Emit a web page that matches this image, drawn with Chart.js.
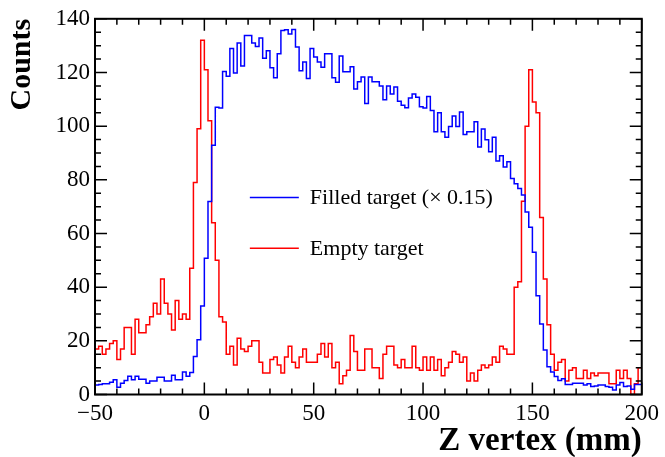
<!DOCTYPE html>
<html>
<head>
<meta charset="utf-8">
<script src="https://cdn.jsdelivr.net/npm/chart.js@4.4.1/dist/chart.umd.min.js"></script>
<style>
  html, body { margin: 0; padding: 0; background: #fff; }
  #wrap { width: 665px; height: 457px; }
</style>
</head>
<body>
<div id="wrap"><canvas id="myChart" width="665" height="457"></canvas></div>
<script>
// Histogram binning (Z vertex in mm)
const xMin = -50;
const xMax = 200;
const xTicks = [-50, 0, 50, 100, 150, 200];
const yTicks = [0, 20, 40, 60, 80, 100, 120, 140];

// Filled target counts (already scaled by 0.15), 150 bins
const filledCounts = [
  3.5, 3.7, 4, 4, 4.6, 5.5, 2.7, 4.2, 5.2, 6.8, 5.5, 6.8, 5.7, 5.7, 4.2,
  5, 5, 6.4, 6.4, 5, 5, 7.2, 5.5, 5.5, 8.4, 6.8, 8.2, 14.2, 20.4, 33,
  50.8, 71.9, 92.9, 107, 106.8, 120.4, 118.6, 128.9, 119.8, 131, 122.4, 133.8, 133.8, 131, 129.7,
  132.8, 125.3, 128.1, 121.8, 118, 127, 135.6, 135.9, 134.3, 136, 129.5, 120.6, 123.9, 117.8, 128.9,
  125.8, 123.9, 121.9, 127, 127, 118, 116.4, 126.1, 120.3, 120.3, 122.1, 113.8, 116.5, 118.3, 108.4,
  118.3, 116.5, 116.5, 115, 109.8, 115, 112, 114.6, 109.3, 107.8, 106.9, 110.5, 112, 110.8, 107.2,
  106.8, 111, 105.8, 97.9, 105, 97.9, 95.9, 99.9, 103.8, 99.9, 105.3, 96.9, 97.9, 97.9, 101.6,
  92.2, 98.9, 94.9, 90.5, 95.9, 87, 89, 84.8, 86.7, 80.5, 78.5, 76.8, 74.3, 68, 62.3,
  53, 36.8, 26.3, 16.6, 10.3, 8.4, 6.7, 5.2, 5.9, 3.7, 3.7, 4.2, 4.2, 4.2, 3.5,
  4, 3, 3.2, 3.5, 3.5, 3, 2.7, 1.7, 3.5, 4.5, 3, 3.2, 2, 3.7, 3.7
];

// Empty target counts, 150 bins
const emptyCounts = [
  17, 18, 15, 17, 19, 20, 13, 17, 25, 25, 15, 28, 23, 23, 26,
  29, 34, 30, 43, 34, 30, 24, 35, 28, 30, 28, 47, 79, 99, 132,
  121, 102, 64, 50, 29, 27, 15, 18, 11, 21, 17, 16, 18, 20, 20,
  12, 8, 8, 13, 14, 11, 8, 14, 18, 12, 10, 14, 17, 12, 12,
  12, 15, 19, 14, 19, 10, 12, 4, 7, 9, 22, 16, 9, 9, 17,
  17, 10, 10, 6, 15, 18, 18, 11, 10, 13, 10, 10, 18, 10, 9,
  14, 9, 14, 9, 13, 7, 10, 12, 16, 15, 12, 14, 5, 8, 5,
  9, 11, 10, 11, 14, 12, 18, 17, 15, 15, 40, 42, 72, 100, 121,
  109, 105, 66, 43, 26, 15, 9, 12, 13, 5, 9, 10, 6, 6, 9,
  6, 8, 7, 8, 8, 8, 4, 4, 9, 6, 9, 6, 0, 4, 10
];

const seriesLabels = ['Filled target (\u00d7 0.15)', 'Empty target'];

// legend placement in data units (line from x0 to x1, one row per series)
const legendX = [20.8, 43.2];
const legendRows = [73.4, 54.5];

// turn bin contents into step points at the low edge of each bin
function toSteps(counts) {
  const w = (xMax - xMin) / counts.length;
  const pts = counts.map((c, i) => ({ x: xMin + i * w, y: c }));
  pts.push({ x: xMax, y: counts[counts.length - 1] });
  return pts;
}

const serif = 'Liberation Serif, Times New Roman, serif';

// ROOT style frame with inward ticks on all four sides
const frameTicks = {
  id: 'frameTicks',
  afterDatasetsDraw(chart) {
    const { ctx, chartArea: a, scales } = chart;
    const xs = scales.x, ys = scales.y;
    ctx.save();
    ctx.strokeStyle = '#000';
    ctx.lineWidth = 1.5;
    ctx.beginPath();
    for (let v = xMin; v <= xMax; v += 10) {
      const px = xs.getPixelForValue(v);
      const len = (v % 50 === 0) ? 12 : 6;
      ctx.moveTo(px, a.bottom); ctx.lineTo(px, a.bottom - len);
      ctx.moveTo(px, a.top); ctx.lineTo(px, a.top + len);
    }
    for (let v = 0; v <= 140; v += 5) {
      const py = ys.getPixelForValue(v);
      const len = (v % 20 === 0) ? 12 : 6;
      ctx.moveTo(a.left, py); ctx.lineTo(a.left + len, py);
      ctx.moveTo(a.right, py); ctx.lineTo(a.right - len, py);
    }
    ctx.stroke();
    ctx.lineWidth = 2;
    ctx.strokeRect(a.left, a.top, a.right - a.left, a.bottom - a.top);
    ctx.restore();
  }
};

// legend drawn inside the frame, without a box
const innerLegend = {
  id: 'innerLegend',
  afterDatasetsDraw(chart) {
    const { ctx, scales } = chart;
    const xs = scales.x, ys = scales.y;
    const x0 = xs.getPixelForValue(legendX[0]);
    const x1 = xs.getPixelForValue(legendX[1]);
    ctx.save();
    ctx.font = '22px ' + serif;
    ctx.fillStyle = '#000';
    ctx.textBaseline = 'middle';
    chart.data.datasets.forEach((ds, i) => {
      const y = ys.getPixelForValue(legendRows[i]);
      ctx.strokeStyle = ds.borderColor;
      ctx.lineWidth = 1.5;
      ctx.beginPath();
      ctx.moveTo(x0, y); ctx.lineTo(x1, y);
      ctx.stroke();
      ctx.fillText(ds.label, x1 + 11, y + 1);
    });
    ctx.restore();
  }
};

const config = {
  type: 'line',
  data: {
    datasets: [
      {
        label: seriesLabels[0],
        data: toSteps(filledCounts),
        borderColor: '#0000ff',
        borderWidth: 1.5,
        stepped: 'before',
        pointRadius: 0,
        fill: false
      },
      {
        label: seriesLabels[1],
        data: toSteps(emptyCounts),
        borderColor: '#ff0000',
        borderWidth: 1.5,
        stepped: 'before',
        pointRadius: 0,
        fill: false
      }
    ]
  },
  options: {
    responsive: false,
    animation: false,
    layout: { padding: { left: 0, right: 19, top: 17.5, bottom: 0 } },
    plugins: {
      legend: { display: false },
      tooltip: { enabled: false }
    },
    scales: {
      x: {
        type: 'linear',
        min: xMin,
        max: xMax,
        afterBuildTicks: (s) => { s.ticks = xTicks.map(v => ({ value: v })); },
        afterFit: (s) => { s.height = 62.5; },
        grid: { display: false, drawTicks: false },
        border: { display: false },
        ticks: {
          color: '#000',
          font: { family: serif, size: 23 },
          padding: 6,
          maxRotation: 0,
          autoSkip: false,
          callback: (v) => String(v).replace('-', '\u2212')
        },
        title: {
          display: true,
          text: 'Z vertex (mm)',
          align: 'end',
          color: '#000',
          font: { family: serif, size: 33, weight: 'bold' },
          padding: { top: 0, bottom: -4 }
        }
      },
      y: {
        min: 0,
        max: 140,
        afterBuildTicks: (s) => { s.ticks = yTicks.map(v => ({ value: v })); },
        afterFit: (s) => { s.width = 95; },
        grid: { display: false, drawTicks: false },
        border: { display: false },
        ticks: {
          color: '#000',
          font: { family: serif, size: 23 },
          padding: 5
        },
        title: {
          display: true,
          text: 'Counts',
          align: 'end',
          color: '#000',
          font: { family: serif, size: 30, weight: 'bold' },
          padding: { top: 4, bottom: 0 }
        }
      }
    }
  },
  plugins: [frameTicks, innerLegend]
};

const ctx = document.getElementById('myChart').getContext('2d');
new Chart(ctx, config);
</script>
</body>
</html>
